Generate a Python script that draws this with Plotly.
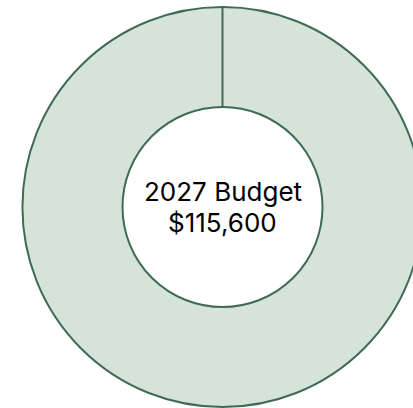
import plotly.graph_objects as go

# Budget breakdown: the whole 2027 budget as one ring, plus an empty
# remainder slice that marks the start/end boundary of the ring.
labels = ["2027 Budget", "Unallocated"]
values = [115600, 0]
title_line = "2027 Budget"
total_label = "$115,600"

FILL = "#D5E3D9"
EDGE = "#3F6B55"
FONT = "Inter, Lato, 'Open Sans', sans-serif"

fig = go.Figure(
    go.Pie(
        labels=labels,
        values=values,
        hole=0.5,
        sort=False,
        direction="clockwise",
        rotation=0,
        marker=dict(colors=[FILL, FILL], line=dict(color=EDGE, width=2)),
        textinfo="none",
        hoverinfo="label+value",
        showlegend=False,
    )
)

fig.add_annotation(
    text=title_line, x=0.5, y=0.54, xref="paper", yref="paper",
    xanchor="center", yanchor="middle", showarrow=False,
    font=dict(family=FONT, size=26, color="#000000"),
)
fig.add_annotation(
    text=total_label, x=0.5, y=0.4625, xref="paper", yref="paper",
    xanchor="center", yanchor="middle", showarrow=False,
    font=dict(family=FONT, size=26, color="#000000"),
)

fig.update_layout(
    width=445,
    height=408,
    margin=dict(l=0, r=0, t=7, b=1),
    paper_bgcolor="#FFFFFF",
    plot_bgcolor="#FFFFFF",
)

fig.write_html("out.html")
